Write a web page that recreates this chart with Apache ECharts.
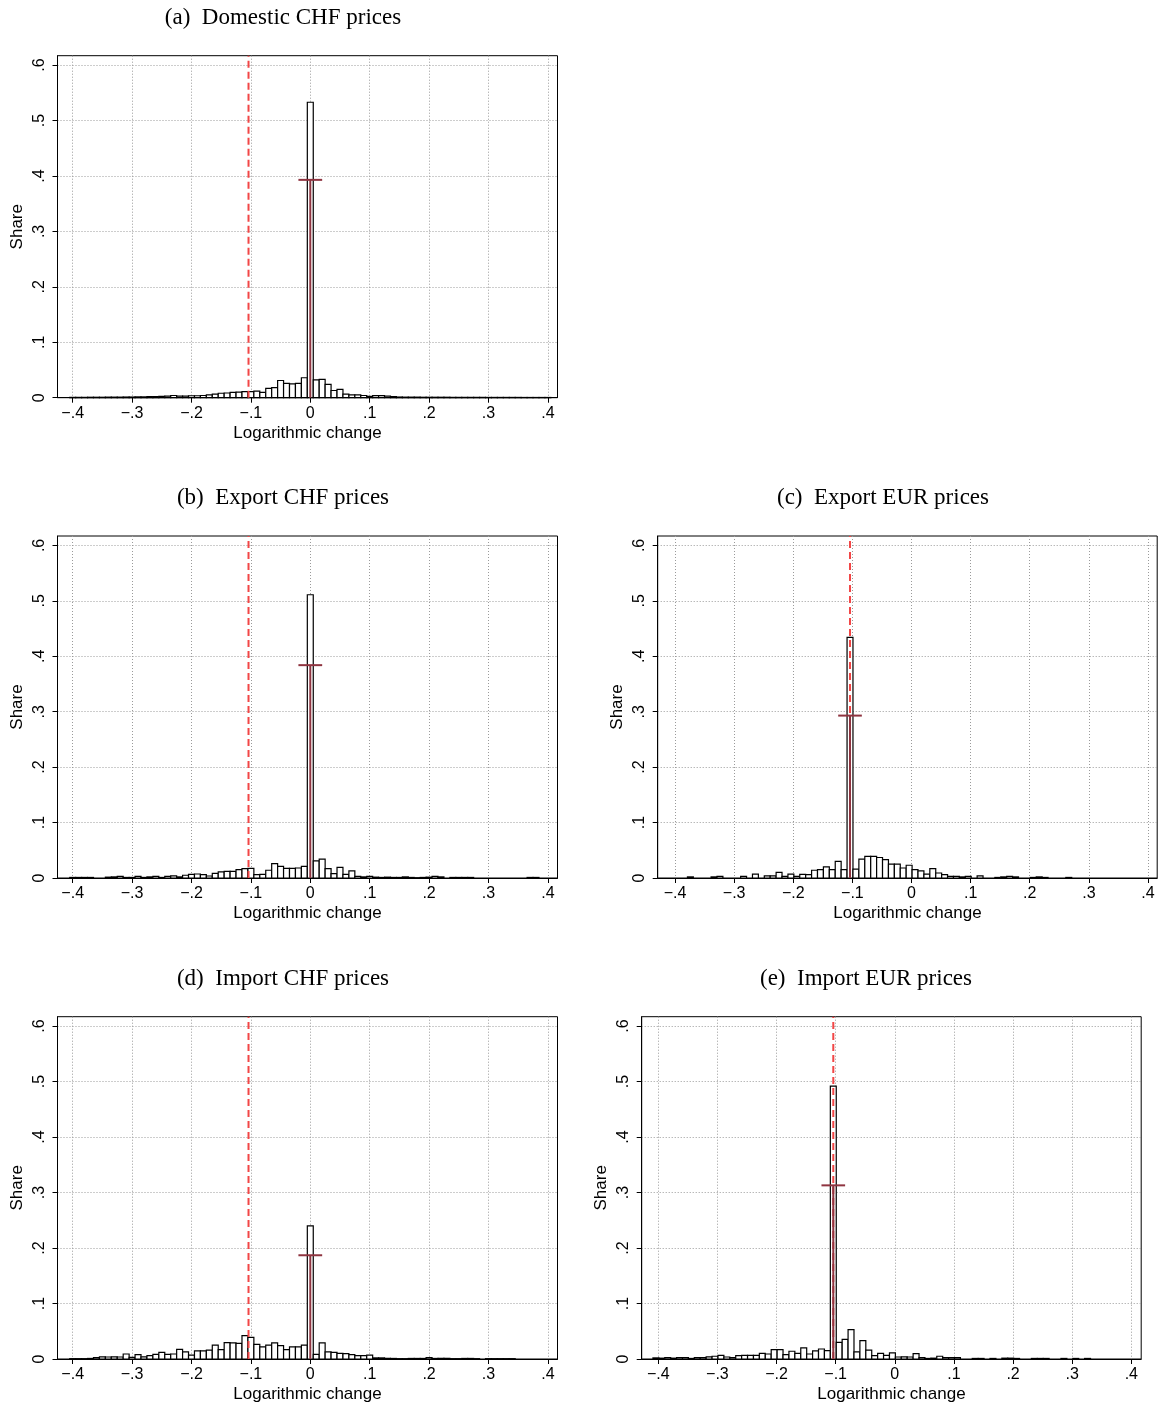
<!DOCTYPE html>
<html>
<head>
<meta charset="utf-8">
<script src="https://cdn.jsdelivr.net/npm/echarts@6/dist/echarts.min.js"></script>
<style>
html,body{margin:0;padding:0;background:#fff;}
#chart{width:1159px;height:1404px;}
</style>
</head>
<body>
<div id="chart"></div>
<script>
// ---------------- DATA ----------------
const BIN_WIDTH = 0.01;
const euroShock = -0.104;              // red dashed reference line
const xTickValues = [-0.4, -0.3, -0.2, -0.1, 0, 0.1, 0.2, 0.3, 0.4];
const xTickLabels = ['\u2212.4', '\u2212.3', '\u2212.2', '\u2212.1', '0', '.1', '.2', '.3', '.4'];
const yTickValues = [0, 0.1, 0.2, 0.3, 0.4, 0.5, 0.6];
const yTickLabels = ['0', '.1', '.2', '.3', '.4', '.5', '.6'];
const panelTitles = ['(a)  Domestic CHF prices', '(b)  Export CHF prices', '(c)  Export EUR prices',
                     '(d)  Import CHF prices', '(e)  Import EUR prices'];
const xAxisTitle = 'Logarithmic change';
const yAxisTitle = 'Share';

// centre of first bin for each panel (bins are 0.01 wide, 81 bins)
const binStartCHF = -0.40;
const binStartEUR = -0.404;

const domesticCHF = [
  0.0006,0.0006,0.0006,0.0008,0.0008,0.0008,0.001,0.001,0.001,0.0012,
  0.0012,0.0015,0.0015,0.002,0.002,0.0025,0.003,0.004,0.003,0.003,
  0.0035,0.0035,0.004,0.005,0.0066,0.008,0.0085,0.0096,0.010,0.011,
  0.011,0.012,0.0096,0.017,0.018,0.031,0.026,0.025,0.026,0.036,
  0.533,
  0.032,0.033,0.024,0.013,0.015,0.0066,0.005,0.005,0.004,0.0024,
  0.0036,0.0036,0.003,0.002,0.0012,0.001,0.001,0.001,0.0008,0.0008,
  0.0008,0.0008,0.0008,0.0006,0.0006,0.0006,0.0006,0.0006,0.0006,0.0005,
  0.0005,0.0005,0.0005,0.0005,0.0005,0.0004,0.0004,0.0004,0.0004,0.0004
];
const exportCHF = [
  0.001,0.001,0.001,0.001,0,0,0.0015,0.002,0.003,0.001,
  0.001,0.003,0.001,0.002,0.003,0.001,0.003,0.004,0.002,0.005,
  0.0066,0.0072,0.006,0.0036,0.0084,0.011,0.012,0.012,0.015,0.017,
  0.0175,0.006,0.0066,0.014,0.026,0.021,0.0175,0.0175,0.018,0.021,
  0.511,
  0.031,0.034,0.017,0.008,0.019,0.0066,0.013,0.003,0.002,0.003,
  0.0015,0.001,0.0015,0.001,0.001,0.002,0.001,0.0005,0.001,0.0015,
  0.003,0.002,0,0.001,0.001,0.001,0.001,0,0,0,
  0,0,0,0,0,0,0.001,0.001,0,0
];
const exportEUR = [
  0,0,0,0.002,0,0,0,0.002,0.003,0,
  0,0,0.003,0,0.007,0,0.004,0.004,0.010,0.003,
  0.007,0.003,0.0066,0.006,0.014,0.015,0.020,0.015,0.030,0.015,
  0.434,
  0.016,0.034,0.039,0.039,0.037,0.033,0.025,0.025,0.018,0.023,
  0.015,0.013,0.007,0.017,0.009,0.006,0.003,0.003,0.002,0.003,
  0,0.004,0,0,0.001,0.002,0.003,0.002,0,0,
  0.001,0.002,0.001,0,0,0,0.001,0,0,0,
  0,0,0,0,0,0,0,0,0,0
];
const importCHF = [
  0.0006,0.0006,0.0006,0.001,0.0024,0.004,0.0036,0.004,0.0036,0.009,
  0.003,0.008,0.004,0.006,0.0085,0.012,0.0085,0.009,0.0175,0.013,
  0.007,0.0145,0.0145,0.016,0.025,0.017,0.0295,0.029,0.028,0.042,
  0.039,0.0265,0.0217,0.025,0.029,0.024,0.017,0.022,0.022,0.025,
  0.240,
  0.0085,0.029,0.013,0.012,0.010,0.0096,0.008,0.006,0.006,0.007,
  0.002,0.002,0.0012,0.001,0.0006,0.0006,0.001,0.001,0.001,0.0024,
  0.001,0.0012,0.0012,0.0006,0.0006,0.001,0.001,0.0006,0,0.0006,
  0.0006,0.0006,0.0006,0.0006,0,0,0,0,0,0
];
const importEUR = [
  0.002,0.0015,0.0024,0.0015,0.0024,0.0024,0.001,0.0024,0.0024,0.004,
  0.005,0.0066,0.0036,0.0024,0.006,0.0066,0.0066,0.0066,0.010,0.009,
  0.017,0.017,0.008,0.014,0.010,0.020,0.009,0.0145,0.018,0.015,
  0.492,
  0.030,0.0355,0.053,0.013,0.033,0.016,0.006,0.010,0.0066,0.011,
  0.0036,0.004,0.0036,0.0096,0.0024,0.001,0.0015,0.005,0.0024,0.0024,
  0.0024,0,0,0.001,0.001,0,0.001,0,0.0015,0.0015,
  0.001,0,0,0.001,0.001,0.001,0,0,0.001,0,
  0.001,0,0.001,0,0,0,0,0,0,0
];
// capped spike (dark red cross): position and height
const crossX = [0, 0, -0.104, 0, -0.104];
const crossValue = [0.393, 0.384, 0.293, 0.187, 0.313];
const crossHalfWidth = 0.02;

// ---------------- LAYOUT ----------------
const panels = [
  {hist: domesticCHF, start: binStartCHF, grid: {left: 57.5, top: 55.7, width: 500, height: 342}, xr: [-0.4256, 0.4162], titleX: 283, titleY: 18},
  {hist: exportCHF,   start: binStartCHF, grid: {left: 57.5, top: 536,  width: 500, height: 342}, xr: [-0.4256, 0.4162], titleX: 283, titleY: 498},
  {hist: exportEUR,   start: binStartEUR, grid: {left: 657.7, top: 536, width: 499.5, height: 342}, xr: [-0.4293, 0.4156], titleX: 883, titleY: 498},
  {hist: importCHF,   start: binStartCHF, grid: {left: 57.5, top: 1016.7, width: 500, height: 342.3}, xr: [-0.4256, 0.4162], titleX: 283, titleY: 979},
  {hist: importEUR,   start: binStartEUR, grid: {left: 641.7, top: 1016.7, width: 499.5, height: 342.3}, xr: [-0.428, 0.4167], titleX: 866, titleY: 979}
];
const Y_MAX = 0.617;

const SANS = '"Liberation Sans", Arial, Helvetica, sans-serif';
const SERIF = '"Liberation Serif", "Times New Roman", Times, serif';

function fmt(list, labels) {
  return function (v) {
    for (let i = 0; i < list.length; i++) if (Math.abs(list[i] - v) < 1e-9) return labels[i];
    return '';
  };
}

const grids = [], xAxes = [], yAxes = [], series = [], graphics = [];
panels.forEach(function (p, i) {
  grids.push(Object.assign({show: true, borderColor: '#000', borderWidth: 1, backgroundColor: '#fff', containLabel: false}, p.grid));
  xAxes.push({
    type: 'value', gridIndex: i, min: p.xr[0], max: p.xr[1],
    name: xAxisTitle, nameLocation: 'middle', nameGap: 27,
    nameTextStyle: {fontFamily: SANS, fontSize: 17, color: '#000'},
    axisLine: {show: true, onZero: false, lineStyle: {color: '#000', width: 1}},
    axisTick: {show: true, length: 5, lineStyle: {color: '#000'}, customValues: xTickValues},
    axisLabel: {show: true, margin: 8, fontFamily: SANS, fontSize: 16, color: '#000',
                customValues: xTickValues, formatter: fmt(xTickValues, xTickLabels)},
    splitLine: {show: true, lineStyle: {color: '#9a9a9a', type: [1, 2], width: 1}}
  });
  yAxes.push({
    type: 'value', gridIndex: i, min: 0, max: Y_MAX,
    name: yAxisTitle, nameLocation: 'middle', nameGap: 32, nameRotate: 90,
    nameTextStyle: {fontFamily: SANS, fontSize: 17, color: '#000'},
    axisLine: {show: true, onZero: false, lineStyle: {color: '#000', width: 1}},
    axisTick: {show: true, length: 5, lineStyle: {color: '#000'}, customValues: yTickValues},
    axisLabel: {show: true, rotate: 90, margin: 10, fontFamily: SANS, fontSize: 16, color: '#000',
                customValues: yTickValues, formatter: fmt(yTickValues, yTickLabels)},
    splitLine: {show: true, lineStyle: {color: '#9a9a9a', type: [1, 2], width: 1}}
  });
  const data = p.hist.map(function (h, k) { return [+(p.start + k * BIN_WIDTH).toFixed(4), h]; });
  series.push({
    type: 'custom', xAxisIndex: i, yAxisIndex: i, silent: true, z: 2,
    data: data,
    renderItem: function (params, api) {
      const x = api.value(0), h = api.value(1);
      if (!(h > 0)) return null;
      const a = api.coord([x - BIN_WIDTH / 2, h]);
      const b = api.coord([x + BIN_WIDTH / 2, 0]);
      return {type: 'rect', shape: {x: a[0], y: a[1], width: b[0] - a[0], height: b[1] - a[1]},
              style: {fill: '#fff', stroke: '#000', lineWidth: 1.2}};
    }
  });
  series.push({
    type: 'custom', xAxisIndex: i, yAxisIndex: i, silent: true, z: 4,
    data: [[euroShock]],
    renderItem: function (params, api) {
      const x = api.value(0);
      const a = api.coord([x, 0]);
      const b = api.coord([x, Y_MAX]);
      return {type: 'line', shape: {x1: a[0], y1: a[1], x2: b[0], y2: b[1]},
              style: {stroke: '#f24646', lineWidth: 2, lineDash: [7, 4]}};
    }
  });
  series.push({
    type: 'custom', xAxisIndex: i, yAxisIndex: i, silent: true, z: 5,
    data: [[crossX[i], crossValue[i]]],
    renderItem: function (params, api) {
      const x = api.value(0), v = api.value(1);
      const base = api.coord([x, 0]);
      const top = api.coord([x, v]);
      const l = api.coord([x - crossHalfWidth, v]);
      const r = api.coord([x + crossHalfWidth, v]);
      return {type: 'group', children: [
        {type: 'line', shape: {x1: base[0], y1: base[1], x2: top[0], y2: top[1]}, style: {stroke: '#8f3440', lineWidth: 2}},
        {type: 'line', shape: {x1: l[0], y1: l[1], x2: r[0], y2: r[1]}, style: {stroke: '#8f3440', lineWidth: 2}}
      ]};
    }
  });
  graphics.push({type: 'text', x: p.titleX, y: p.titleY,
    style: {text: panelTitles[i], font: '23px ' + SERIF, fill: '#000', textAlign: 'center', textVerticalAlign: 'middle'}});
});

const chart = echarts.init(document.getElementById('chart'), null, {renderer: 'canvas'});
chart.setOption({
  animation: false,
  backgroundColor: '#fff',
  grid: grids, xAxis: xAxes, yAxis: yAxes, series: series, graphic: graphics
});
</script>
</body>
</html>
